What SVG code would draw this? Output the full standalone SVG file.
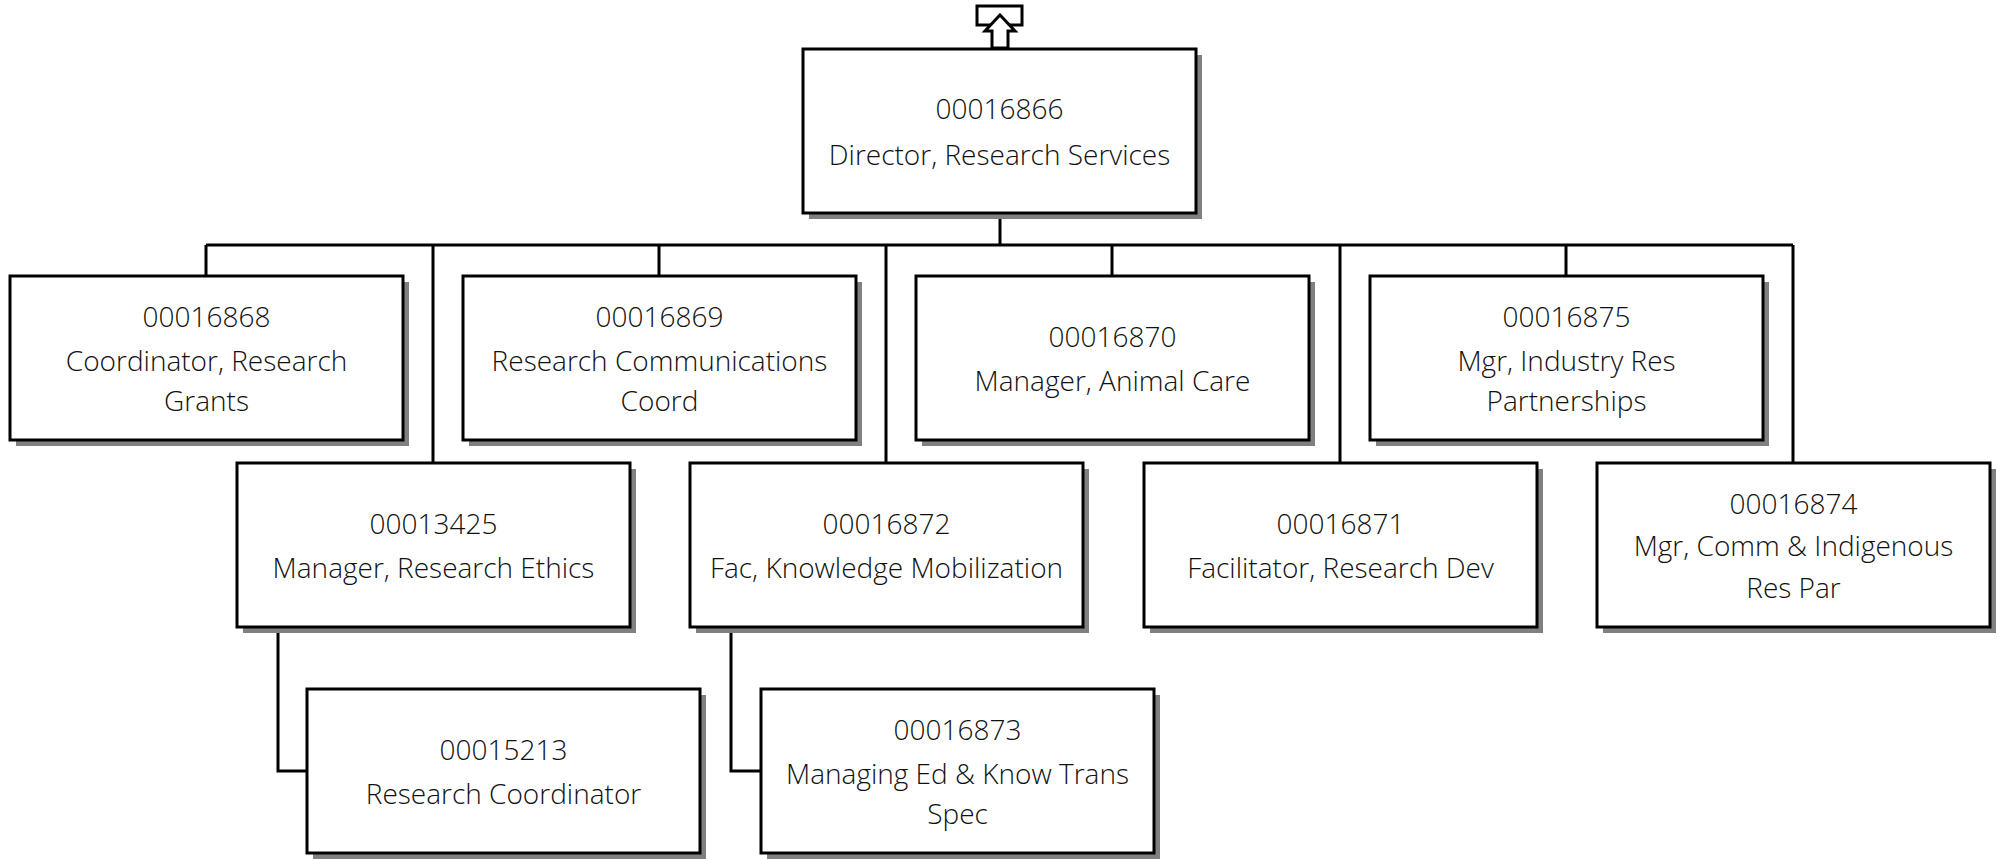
<svg xmlns="http://www.w3.org/2000/svg" width="1997" height="859" viewBox="0 0 1997 859">
<style>
.sh{fill:#808080}
.bx{fill:#fff;stroke:#000;stroke-width:3}
.t{font-family:"Open Sans","Liberation Sans",sans-serif;font-weight:300;font-size:28px;fill:#111;text-anchor:middle}
.c{fill:none;stroke:#000;stroke-width:3}
</style>
<rect width="1997" height="859" fill="#fff"/>
<g id="connectors">
<path class="c" d="M1000 213V245M206 245H1793M206 245V276M659 245V276M1112 245V276M1566 245V276M433 245V463M886 245V463M1340 245V463M1793 245V463M278 627V771H307M731 627V771H761"/>
</g>
<g id="up-icon">
<rect x="977" y="6" width="45" height="19" fill="#fff" stroke="#000" stroke-width="3"/>
<polygon points="1000,15 1015,31 1008,31 1008,48 992,48 992,31 985,31" fill="#fff" stroke="#000" stroke-width="3"/>
</g>
<g id="n16866">
<rect class="sh" x="809" y="55" width="393" height="164"/>
<rect class="bx" x="803" y="49" width="393" height="164"/>
<text class="t" x="999.5" y="119">00016866</text>
<text class="t" x="999.5" y="165">Director, Research Services</text>
</g>
<g id="n16868">
<rect class="sh" x="16" y="282" width="393" height="164"/>
<rect class="bx" x="10" y="276" width="393" height="164"/>
<text class="t" x="206.5" y="327">00016868</text>
<text class="t" x="206.5" y="371">Coordinator, Research</text>
<text class="t" x="206.5" y="411">Grants</text>
</g>
<g id="n16869">
<rect class="sh" x="469" y="282" width="393" height="164"/>
<rect class="bx" x="463" y="276" width="393" height="164"/>
<text class="t" x="659.5" y="327">00016869</text>
<text class="t" x="659.5" y="371">Research Communications</text>
<text class="t" x="659.5" y="411">Coord</text>
</g>
<g id="n16870">
<rect class="sh" x="922" y="282" width="393" height="164"/>
<rect class="bx" x="916" y="276" width="393" height="164"/>
<text class="t" x="1112.5" y="347">00016870</text>
<text class="t" x="1112.5" y="391">Manager, Animal Care</text>
</g>
<g id="n16875">
<rect class="sh" x="1376" y="282" width="393" height="164"/>
<rect class="bx" x="1370" y="276" width="393" height="164"/>
<text class="t" x="1566.5" y="327">00016875</text>
<text class="t" x="1566.5" y="371">Mgr, Industry Res</text>
<text class="t" x="1566.5" y="411">Partnerships</text>
</g>
<g id="n13425">
<rect class="sh" x="243" y="469" width="393" height="164"/>
<rect class="bx" x="237" y="463" width="393" height="164"/>
<text class="t" x="433.5" y="534">00013425</text>
<text class="t" x="433.5" y="578">Manager, Research Ethics</text>
</g>
<g id="n16872">
<rect class="sh" x="696" y="469" width="393" height="164"/>
<rect class="bx" x="690" y="463" width="393" height="164"/>
<text class="t" x="886.5" y="534">00016872</text>
<text class="t" x="886.5" y="578">Fac, Knowledge Mobilization</text>
</g>
<g id="n16871">
<rect class="sh" x="1150" y="469" width="393" height="164"/>
<rect class="bx" x="1144" y="463" width="393" height="164"/>
<text class="t" x="1340.5" y="534">00016871</text>
<text class="t" x="1340.5" y="578">Facilitator, Research Dev</text>
</g>
<g id="n16874">
<rect class="sh" x="1603" y="469" width="393" height="164"/>
<rect class="bx" x="1597" y="463" width="393" height="164"/>
<text class="t" x="1793.5" y="514">00016874</text>
<text class="t" x="1793.5" y="556">Mgr, Comm &amp; Indigenous</text>
<text class="t" x="1793.5" y="598">Res Par</text>
</g>
<g id="n15213">
<rect class="sh" x="313" y="695" width="393" height="164"/>
<rect class="bx" x="307" y="689" width="393" height="164"/>
<text class="t" x="503.5" y="760">00015213</text>
<text class="t" x="503.5" y="804">Research Coordinator</text>
</g>
<g id="n16873">
<rect class="sh" x="767" y="695" width="393" height="164"/>
<rect class="bx" x="761" y="689" width="393" height="164"/>
<text class="t" x="957.5" y="740">00016873</text>
<text class="t" x="957.5" y="784">Managing Ed &amp; Know Trans</text>
<text class="t" x="957.5" y="824">Spec</text>
</g>
</svg>
